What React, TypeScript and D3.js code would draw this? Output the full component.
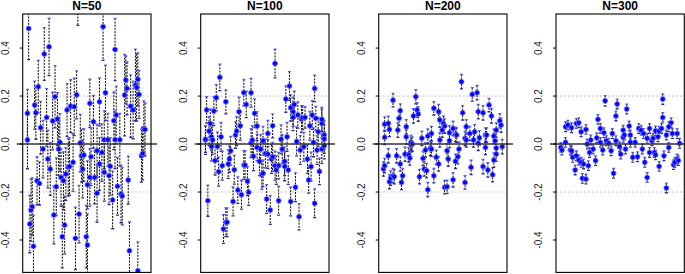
import React from 'react';
import * as d3 from 'd3';

// ---- data: [x index, estimate, CI half-width] ----
const titles = ['N=50', 'N=100', 'N=200', 'N=300'];
const yTicks = [-0.4, -0.2, 0, 0.2, 0.4];
const refLines = [-0.2, 0.2];
const nIndex = 100;

const panelN50: [number, number, number][] = [
  [1, 0.017, 0.12], [1, 0.128, 0.10], [2, 0.482, 0.13], [3, -0.333, 0.12], [4, -0.275, 0.13],
  [5, -0.261, 0.12], [6, -0.426, 0.13], [7, 0.1625, 0.10], [8, 0.13, 0.11], [9, -0.153, 0.10],
  [10, 0.239, 0.11], [11, -0.164, 0.09], [12, 0.068, 0.11], [14, -0.021, 0.12], [15, 0.375, 0.11],
  [17, 0.111, 0.12], [18, -0.0625, 0.12], [19, 0.405, 0.12], [20, -0.104, 0.11], [22, 0.096, 0.12],
  [23, -0.296, 0.12], [24, 0.197, 0.13], [25, -0.178, 0.12], [26, 0.104, 0.11], [27, -0.021, 0.11],
  [28, 0.007, 0.12], [29, -0.139, 0.12], [30, -0.386, 0.13], [31, -0.153, 0.12], [32, -0.3375, 0.12],
  [33, -0.125, 0.11], [34, 0.142, 0.11], [35, -0.097, 0.12], [36, -0.094, 0.12], [37, 0.158, 0.11],
  [39, -0.076, 0.12], [40, 0.155, 0.12], [41, -0.393, 0.13], [42, 0.205, 0.10], [43, 0.62, 0.125],
  [44, -0.292, 0.12], [45, 0.004, 0.12], [46, -0.049, 0.11], [47, -0.104, 0.12], [48, -0.046, 0.11],
  [50, -0.386, 0.13], [51, -0.421, 0.13], [51, -0.17, 0.10], [53, -0.139, 0.12], [53, 0.17, 0.10],
  [54, -0.053, 0.12], [56, 0.093, 0.11], [57, -0.139, 0.11], [59, -0.028, 0.11], [59, -0.205, 0.12],
  [61, -0.083, 0.11], [61, 0.176, 0.10], [63, -0.035, 0.12], [64, 0.489, 0.14], [65, -0.118, 0.12],
  [65, 0.018, 0.12], [66, 0.214, 0.115], [68, 0.018, 0.11], [69, -0.132, 0.12], [70, -0.093, 0.12],
  [72, -0.233, 0.12], [73, 0.097, 0.12], [74, 0.394, 0.13], [74, 0.018, 0.12], [75, 0.121, 0.12],
  [76, -0.176, 0.12], [78, 0.018, 0.11], [79, -0.208, 0.12], [80, -0.217, 0.12], [82, 0.204, 0.17],
  [83, 0.267, 0.10], [84, 0.232, 0.11], [85, -0.15, 0.10], [86, -0.445, 0.12], [87, 0.158, 0.13],
  [89, 0.142, 0.12], [91, 0.246, 0.15], [92, 0.236, 0.14], [93, -0.528, 0.12], [93, 0.27, 0.11],
  [94, 0.207, 0.10], [96, -0.049, 0.11], [97, -0.039, 0.11], [98, 0.065, 0.115], [99, 0.061, 0.11],
];

const panelN100: [number, number, number][] = [
  [1, 0.017, 0.06], [1, 0.02, 0.055], [2, 0.142, 0.055], [3, -0.236, 0.065], [4, 0.054, 0.06],
  [5, 0.086, 0.06], [6, -0.01, 0.06], [6, 0.03, 0.055], [7, 0.017, 0.06], [8, 0.1375, 0.06],
  [9, -0.069, 0.06], [10, 0.193, 0.055], [11, -0.01, 0.06], [12, -0.115, 0.06], [13, 0.278, 0.055],
  [14, 0.03, 0.06], [15, -0.09, 0.06], [16, -0.354, 0.06], [18, 0.176, 0.05], [18, -0.326, 0.06],
  [19, -0.326, 0.06], [20, -0.083, 0.06], [21, -0.0625, 0.055], [22, -0.028, 0.06], [24, -0.239, 0.06],
  [25, -0.107, 0.06], [26, 0.0375, 0.055], [27, 0.054, 0.06], [28, -0.192, 0.055], [29, 0.135, 0.06],
  [30, 0.076, 0.06], [31, -0.211, 0.06], [33, -0.0875, 0.06], [33, 0.214, 0.055], [34, -0.0875, 0.06],
  [35, 0.165, 0.055], [36, -0.155, 0.06], [37, -0.201, 0.055], [39, 0.004, 0.06], [39, 0.214, 0.06],
  [40, 0.017, 0.06], [41, -0.051, 0.06], [42, 0.128, 0.06], [44, -0.014, 0.055], [44, 0.075, 0.06],
  [46, -0.072, 0.06], [47, -0.021, 0.06], [48, -0.128, 0.06], [49, 0.014, 0.06], [49, -0.122, 0.055],
  [51, -0.039, 0.06], [52, -0.229, 0.06], [53, -0.042, 0.06], [53, 0.044, 0.055], [55, -0.275, 0.06],
  [56, -0.0625, 0.06], [57, 0.076, 0.05], [57, -0.053, 0.06], [59, 0.336, 0.06], [59, -0.09, 0.06],
  [60, -0.108, 0.06], [62, -0.236, 0.06], [62, -0.09, 0.055], [64, 0.02, 0.06], [65, -0.021, 0.06],
  [67, -0.072, 0.06], [67, -0.093, 0.06], [68, 0.1875, 0.055], [69, 0.03, 0.06], [70, -0.108, 0.06],
  [71, 0.242, 0.06], [72, 0.151, 0.055], [72, -0.239, 0.06], [74, 0.111, 0.055], [74, 0.135, 0.06],
  [75, 0.165, 0.055], [76, -0.18, 0.06], [77, 0.011, 0.06], [78, 0.121, 0.055], [79, -0.303, 0.055],
  [80, -0.025, 0.06], [81, 0.104, 0.055], [82, 0.11, 0.05], [83, -0.011, 0.06], [84, 0.111, 0.045],
  [86, -0.0625, 0.06], [87, -0.15, 0.055], [88, 0.076, 0.06], [89, -0.094, 0.06], [90, 0.121, 0.06],
  [91, 0.007, 0.06], [92, 0.232, 0.055], [92, -0.247, 0.06], [93, 0.107, 0.05], [94, -0.025, 0.06],
  [95, 0.051, 0.06], [96, -0.114, 0.055], [98, 0.086, 0.06], [98, 0.103, 0.05], [98, -0.021, 0.06],
  [100, 0.0375, 0.06], [100, 0.021, 0.06], [100, -0.007, 0.055],
];

const panelN200: [number, number, number][] = [
  [1, -0.104, 0.03], [2, 0.028, 0.03], [2, 0.083, 0.03], [2, -0.09, 0.03], [5, 0.086, 0.03],
  [5, -0.049, 0.03], [6, -0.157, 0.03], [6, 0.061, 0.03], [7, -0.142, 0.03], [9, 0.183, 0.028],
  [9, -0.132, 0.03], [10, -0.136, 0.03], [12, -0.049, 0.03], [13, 0.058, 0.03], [14, 0.107, 0.03],
  [15, 0.139, 0.028], [15, -0.083, 0.03], [16, -0.16, 0.03], [17, -0.132, 0.03], [19, -0.042, 0.03],
  [20, 0.03, 0.03], [20, 0.072, 0.03], [22, -0.045, 0.03], [23, -0.058, 0.03], [24, -0.004, 0.03],
  [24, 0.007, 0.03], [25, 0, 0.03], [26, 0.117, 0.03], [28, 0.197, 0.03], [29, 0.142, 0.03],
  [30, 0.125, 0.03], [31, -0.136, 0.03], [33, 0.024, 0.03], [34, -0.06, 0.03], [35, -0.104, 0.03],
  [36, -0.025, 0.03], [37, -0.111, 0.03], [38, 0.033, 0.03], [38, -0.19, 0.03], [40, -0.018, 0.03],
  [41, 0.044, 0.03], [41, -0.021, 0.03], [43, -0.132, 0.03], [43, 0.149, 0.028], [45, -0.055, 0.03],
  [47, 0.135, 0.03], [47, -0.083, 0.03], [48, 0.017, 0.03], [48, 0.1, 0.03], [50, 0.058, 0.03],
  [51, 0.086, 0.03], [52, -0.18, 0.028], [52, 0.075, 0.03], [54, -0.178, 0.028], [54, -0.028, 0.03],
  [55, -0.0625, 0.03], [56, 0.047, 0.03], [56, 0.014, 0.03], [59, 0.065, 0.03], [59, -0.149, 0.03],
  [61, 0.04, 0.03], [61, -0.072, 0.03], [62, 0.0375, 0.03], [63, -0.053, 0.03], [64, -0.021, 0.03],
  [66, 0.26, 0.03], [67, 0.13, 0.03], [69, 0.024, 0.03], [69, -0.16, 0.028], [70, 0.072, 0.03],
  [70, 0.017, 0.03], [73, 0.044, 0.03], [74, -0.097, 0.03], [75, 0.207, 0.028], [76, 0.017, 0.03],
  [77, 0.051, 0.03], [79, 0.214, 0.03], [80, 0.135, 0.03], [80, 0.003, 0.03], [81, 0.026, 0.03],
  [84, 0.13, 0.03], [84, -0.094, 0.03], [86, 0.0375, 0.03], [86, -0.014, 0.03], [87, 0.0375, 0.03],
  [88, -0.108, 0.03], [89, 0.1625, 0.028], [91, 0.117, 0.03], [92, -0.128, 0.03], [93, -0.067, 0.03],
  [93, 0.033, 0.03], [94, 0.014, 0.03], [95, -0.017, 0.03], [95, 0.058, 0.03], [95, -0.042, 0.03],
  [98, 0.097, 0.03], [99, 0.079, 0.03], [100, -0.011, 0.03],
];

const panelN300: [number, number, number][] = [
  [1, -0.014, 0.02], [2, -0.025, 0.02], [5, 0.072, 0.02], [5, 0.007, 0.02], [7, 0.079, 0.02],
  [9, -0.025, 0.02], [10, 0.068, 0.02], [10, -0.028, 0.02], [11, -0.055, 0.02], [13, -0.108, 0.02],
  [14, 0.086, 0.02], [14, -0.049, 0.02], [16, -0.067, 0.02], [16, 0.089, 0.02], [18, -0.076, 0.02],
  [18, 0.051, 0.02], [19, -0.143, 0.02], [20, -0.083, 0.02], [22, 0.061, 0.02], [22, -0.146, 0.02],
  [23, 0, 0.02], [24, -0.09, 0.02], [25, -0.035, 0.02], [26, 0.017, 0.02], [28, -0.021, 0.02],
  [30, -0.069, 0.02], [31, 0.026, 0.02], [32, 0.103, 0.02], [34, 0.065, 0.02], [34, 0.007, 0.02],
  [36, -0.025, 0.02], [37, 0.047, 0.02], [38, 0.18, 0.022], [39, 0.014, 0.02], [41, 0.003, 0.02],
  [43, -0.028, 0.02], [44, 0.044, 0.02], [45, -0.122, 0.02], [47, 0.117, 0.02], [47, 0.014, 0.02],
  [48, 0.167, 0.02], [50, -0.011, 0.02], [51, -0.042, 0.02], [53, 0.058, 0.02], [53, 0.028, 0.02],
  [54, 0.0375, 0.02], [55, -0.021, 0.02], [56, 0.146, 0.02], [58, 0.075, 0.02], [59, 0.0375, 0.02],
  [59, 0.007, 0.02], [61, -0.055, 0.02], [63, 0.007, 0.02], [65, -0.053, 0.02], [66, 0.065, 0.02],
  [68, 0.058, 0.02], [69, -0.021, 0.02], [70, 0.044, 0.02], [71, -0.076, 0.02], [73, 0.024, 0.02],
  [73, -0.139, 0.02], [75, -0.035, 0.02], [75, 0.065, 0.02], [77, 0.014, 0.02], [78, 0.024, 0.02],
  [79, -0.035, 0.02], [80, -0.045, 0.02], [80, 0.055, 0.02], [82, 0.03, 0.02], [83, 0.054, 0.02],
  [83, -0.093, 0.02], [85, 0.065, 0.02], [86, 0.1875, 0.022], [86, 0.111, 0.02], [87, -0.049, 0.02],
  [89, -0.183, 0.02], [89, 0.0375, 0.02], [91, 0.072, 0.02], [91, -0.014, 0.02], [93, 0.089, 0.02],
  [94, 0.044, 0.02], [95, -0.086, 0.02], [96, -0.076, 0.02], [98, -0.0625, 0.02], [98, 0.044, 0.02],
  [99, -0.069, 0.02], [100, 0.003, 0.02],
];

const panelsData = [panelN50, panelN100, panelN200, panelN300];

// ---- layout ----
const W = 685;
const H = 274;
const panelLefts = [22.7, 200.7, 378.7, 556];
const panelW = 128.3;
const plotTop = 14;
const plotBottom = 272.4;
const FONT = "'Liberation Sans', Arial, Helvetica, sans-serif";

export default function App() {
  const y = d3.scaleLinear().domain([-0.535, 0.542]).range([plotBottom, plotTop]);
  const pad = 0.04 * (nIndex - 1);

  return (
    <svg
      width={W}
      height={H}
      viewBox={`0 0 ${W} ${H}`}
      style={{ position: 'absolute', left: 0, top: 0, display: 'block', background: '#fff' }}
      fontFamily={FONT}
    >
      <rect x={0} y={0} width={W} height={H} fill="#fff" />
      <defs>
        {panelLefts.map((L, i) => (
          <clipPath id={`clip${i}`} key={i}>
            <rect x={L} y={plotTop} width={panelW} height={plotBottom - plotTop} />
          </clipPath>
        ))}
      </defs>
      {panelsData.map((pts, pi) => {
        const L = panelLefts[pi];
        const R = L + panelW;
        const x = d3.scaleLinear().domain([1 - pad, nIndex + pad]).range([L, R]);
        return (
          <g key={pi}>
            {refLines.map((v) => (
              <line key={v} x1={L} x2={R} y1={y(v)} y2={y(v)} stroke="#c4c4c4" strokeWidth={1} strokeDasharray="2,2" />
            ))}
            <g clipPath={`url(#clip${pi})`}>
              {pts.map((d, k) => (
                <line
                  key={`b${k}`}
                  x1={x(d[0])}
                  x2={x(d[0])}
                  y1={y(d[1] + d[2])}
                  y2={y(d[1] - d[2])}
                  stroke="#000"
                  strokeWidth={1}
                  strokeDasharray="2,1.2"
                />
              ))}
              {pts.map((d, k) => (
                <g key={`c${k}`}>
                  <line x1={x(d[0]) - 1.5} x2={x(d[0]) + 1.5} y1={y(d[1] + d[2])} y2={y(d[1] + d[2])} stroke="#5a5af0" strokeWidth={1.3} />
                  <line x1={x(d[0]) - 1.5} x2={x(d[0]) + 1.5} y1={y(d[1] - d[2])} y2={y(d[1] - d[2])} stroke="#2a2aa0" strokeWidth={1.3} />
                </g>
              ))}
              {pts.map((d, k) => (
                <circle key={`p${k}`} cx={x(d[0])} cy={y(d[1])} r={2.5} fill="#0000ff" stroke="#7a7aff" strokeWidth={0.8} />
              ))}
            </g>
            <line x1={L - 6} x2={Math.min(R + 6, W)} y1={y(0)} y2={y(0)} stroke="#333" strokeWidth={1.4} />
            <rect x={L} y={plotTop} width={panelW} height={plotBottom - plotTop} fill="none" stroke="#000" strokeWidth={1.1} />
            {yTicks.map((t) => (
              <g key={t}>
                <line x1={L - 3} x2={L} y1={y(t)} y2={y(t)} stroke="#000" strokeWidth={1} />
                <text
                  transform={`translate(${L - 14},${y(t)}) rotate(-90)`}
                  textAnchor="middle"
                  fontSize={10}
                  fill="#222"
                >
                  {t.toFixed(1)}
                </text>
              </g>
            ))}
            <text x={(L + R) / 2} y={10.3} textAnchor="middle" fontSize={12} fontWeight="bold" fill="#000">
              {titles[pi]}
            </text>
          </g>
        );
      })}
    </svg>
  );
}
